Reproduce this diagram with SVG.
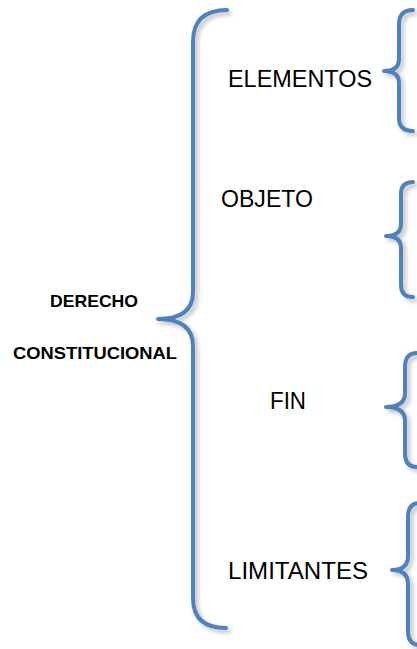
<svg xmlns="http://www.w3.org/2000/svg" width="417" height="649" viewBox="0 0 417 649">
<defs>
<filter id="sh" x="-50%" y="-10%" width="200%" height="120%">
<feDropShadow dx="3" dy="3" stdDeviation="2" flood-color="#000" flood-opacity="0.25"/>
</filter>
</defs>
<style>
.brace{fill:none;stroke:#4F81BD;stroke-width:4;stroke-linecap:round;stroke-linejoin:round;filter:url(#sh)}
.lbl{font-family:"Liberation Sans",Arial,sans-serif;font-size:23px;fill:#000}
.root{font-family:"Liberation Sans",Arial,sans-serif;font-size:17px;font-weight:bold;fill:#000}
</style>
<rect width="417" height="649" fill="#fff"/>
<g id="connectors">
<path class="brace" d="M227,10 Q193,10 193,42 L193,292 Q193,319 158,319 Q193,319 193,346 L193,598 Q193,628 226,628"/>
<path class="brace" d="M413,10 Q399,10 399,24 L399,59 Q399,71 384,71 Q399,71 399,83 L399,118 Q399,131 413,131"/>
<path class="brace" d="M413,182 Q401,182 401,194 L401,224 Q401,236 386,236 Q401,236 401,248 L401,285 Q401,297 413,297"/>
<path class="brace" d="M417,353 Q405,353 405,367 L405,393 Q405,407 386,407 Q405,407 405,421 L405,453 Q405,467 417,467"/>
<path class="brace" d="M420,503 Q408,503 408,517 L408,556 Q408,570 392,570 Q408,570 408,584 L408,631 Q408,645 420,645"/>
</g>
<g id="root">
<text class="root" x="50" y="307" textLength="88" lengthAdjust="spacingAndGlyphs">DERECHO</text>
<text class="root" x="13" y="359" textLength="164" lengthAdjust="spacingAndGlyphs">CONSTITUCIONAL</text>
</g>
<g id="elementos"><text class="lbl" x="228" y="87" textLength="144" lengthAdjust="spacingAndGlyphs">ELEMENTOS</text></g>
<g id="objeto"><text class="lbl" x="221" y="207" textLength="92" lengthAdjust="spacingAndGlyphs">OBJETO</text></g>
<g id="fin"><text class="lbl" x="270" y="409" textLength="36" lengthAdjust="spacingAndGlyphs">FIN</text></g>
<g id="limitantes"><text class="lbl" x="228" y="579" textLength="140" lengthAdjust="spacingAndGlyphs">LIMITANTES</text></g>
</svg>
